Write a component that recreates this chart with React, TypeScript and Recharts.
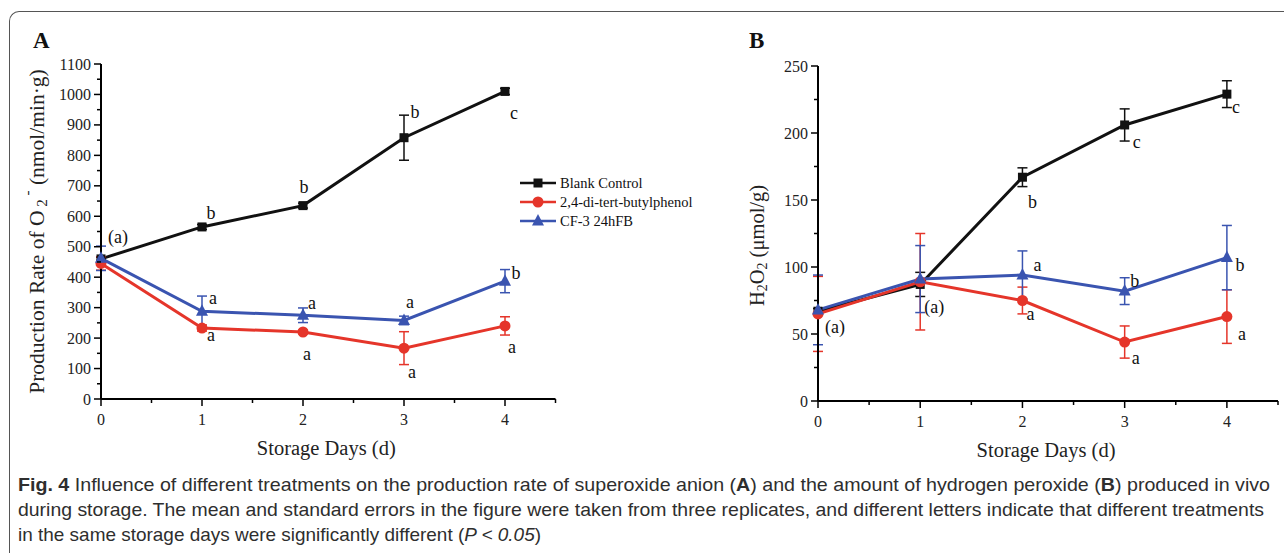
import React from "react";
import { LineChart, Line, XAxis, YAxis, ErrorBar, LabelList } from "recharts";

const days = [0, 1, 2, 3, 4];
const seriesNames = ["Blank Control", "2,4-di-tert-butylphenol", "CF-3 24hFB"];

// A: superoxide anion production rate (nmol/min·g)
const o2Blank = [460, 565, 635, 858, 1010];
const o2BlankErr = [5, 8, 8, 74, 10];
const o2Dtbp = [445, 233, 220, 167, 240];
const o2DtbpErr = [22, 10, 6, 54, 30];
const o2Cf3 = [462, 288, 275, 258, 387];
const o2Cf3Err = [40, 50, 24, 14, 38];
const o2BlankLetters = ["(a)", "b", "b", "b", "c"];
const o2DtbpLetters = ["", "a", "a", "a", "a"];
const o2Cf3Letters = ["", "a", "a", "a", "b"];

// B: hydrogen peroxide (μmol/g)
const h2o2Blank = [67, 87, 167, 206, 229];
const h2o2BlankErr = [2, 9, 7, 12, 10];
const h2o2Dtbp = [65, 89, 75, 44, 63];
const h2o2DtbpErr = [28, 36, 10, 12, 20];
const h2o2Cf3 = [68, 91, 94, 82, 107];
const h2o2Cf3Err = [26, 25, 18, 10, 24];
const h2o2BlankLetters = ["(a)", "(a)", "b", "c", "c"];
const h2o2DtbpLetters = ["", "", "a", "a", "a"];
const h2o2Cf3Letters = ["", "", "a", "b", "b"];

// letter placement relative to the point (dx, dy)
const offA = {
  blank: [[17, -22], [9, -14], [1, -19], [11, -26], [9, 22]],
  dtbp: [[0, 0], [9, 7], [4, 22], [8, 24], [7, 21]],
  cf3: [[0, 0], [11, -13], [9, -12], [6, -18], [11, -8]],
};
const offB = {
  blank: [[17, 16], [14, 23], [10, 25], [12, 17], [9, 13]],
  dtbp: [[0, 0], [0, 0], [8, 13], [11, 16], [15, 17]],
  cf3: [[0, 0], [0, 0], [15, -10], [10, -10], [13, 7]],
};

const BLACK = "#111111";
const RED = "#e5352a";
const BLUE = "#3a54b0";
const SERIF = "'Liberation Serif', 'Times New Roman', serif";

const range = (max: number, step: number) =>
  Array.from({ length: Math.round(max / step) + 1 }, (_, i) => i * step);

const buildRows = (b: number[], be: number[], r: number[], re: number[], c: number[], ce: number[],
  bl: string[], rl: string[], cl: string[]) =>
  days.map((d, i) => ({
    day: d,
    blank: b[i], blankErr: be[i], blankL: bl[i],
    dtbp: r[i], dtbpErr: re[i], dtbpL: rl[i],
    cf3: c[i], cf3Err: ce[i], cf3L: cl[i],
  }));

const rowsA = buildRows(o2Blank, o2BlankErr, o2Dtbp, o2DtbpErr, o2Cf3, o2Cf3Err,
  o2BlankLetters, o2DtbpLetters, o2Cf3Letters);
const rowsB = buildRows(h2o2Blank, h2o2BlankErr, h2o2Dtbp, h2o2DtbpErr, h2o2Cf3, h2o2Cf3Err,
  h2o2BlankLetters, h2o2DtbpLetters, h2o2Cf3Letters);

function Square({ cx, cy, color }: any) {
  return <rect x={cx - 4.5} y={cy - 4.5} width={9} height={9} fill={color} />;
}
function Dot({ cx, cy, color }: any) {
  return <circle cx={cx} cy={cy} r={5.5} fill={color} />;
}
function Tri({ cx, cy, color }: any) {
  return <polygon points={`${cx},${cy - 7} ${cx + 6},${cy + 4.5} ${cx - 6},${cy + 4.5}`} fill={color} />;
}
const marker = (Shape: any, color: string) => (p: any) =>
  <Shape key={`m${p.index}`} cx={p.cx} cy={p.cy} color={color} />;

const yTick = (majorStep: number) => (props: any) => {
  const { x, y, payload } = props;
  const v = payload.value;
  const major = v % majorStep === 0;
  return (
    <g>
      <line x1={x} x2={x - (major ? 7 : 4)} y1={y} y2={y} stroke="#000" strokeWidth={1.5} />
      {major && (
        <text x={x - 10} y={y} textAnchor="end" dominantBaseline="central"
          fontFamily={SERIF} fontSize={16} fill="#222">{v}</text>
      )}
    </g>
  );
};

const xTick = (props: any) => {
  const { x, y, payload } = props;
  const v = payload.value;
  const major = Number.isInteger(v);
  return (
    <g>
      <line x1={x} x2={x} y1={y} y2={y + (major ? 7 : 4)} stroke="#000" strokeWidth={1.5} />
      {major && (
        <text x={x} y={y + 20} textAnchor="middle" dominantBaseline="central"
          fontFamily={SERIF} fontSize={16} fill="#222">{v}</text>
      )}
    </g>
  );
};

const letter = (offs: number[][]) => (p: any) => {
  const { x, y, value, index } = p;
  if (!value) return null;
  const [dx, dy] = offs[index];
  return (
    <text key={`l${index}`} x={x + dx} y={y + dy} textAnchor="middle" dominantBaseline="central"
      fontFamily={SERIF} fontSize={18} fill="#111">{value}</text>
  );
};

function Panel({ rows, yMax, yMinor, yMajor, offs, yLabel, yLabelSize, yLabelDx, yLabelDy, margin, width, height }: any) {
  return (
    <LineChart width={width} height={height} data={rows} margin={margin}>
      <XAxis
        dataKey="day"
        type="number"
        domain={[0, 4.5]}
        ticks={range(4.5, 0.5)}
        interval={0}
        tickSize={0}
        tickMargin={0}
        tick={xTick}
        height={40}
        axisLine={{ stroke: "#000", strokeWidth: 2 }}
        tickLine={false}
        label={{
          content: (lp: any) => (
            <text x={lp.viewBox.x + lp.viewBox.width / 2 - 2} y={lp.viewBox.y + 49} textAnchor="middle"
              dominantBaseline="central" fontFamily={SERIF} fontSize={20.5} fill="#222">
              Storage Days (d)
            </text>
          ),
        }}
      />
      <YAxis
        type="number"
        domain={[0, yMax]}
        ticks={range(yMax, yMinor)}
        interval={0}
        tickSize={0}
        tickMargin={0}
        tick={yTick(yMajor)}
        width={85}
        axisLine={{ stroke: "#000", strokeWidth: 2 }}
        tickLine={false}
        label={{
          content: (lp: any) => {
            const cx = lp.viewBox.x + yLabelDx;
            const cy = lp.viewBox.y + lp.viewBox.height / 2 + yLabelDy;
            return (
              <text x={cx} y={cy} transform={`rotate(-90 ${cx} ${cy})`} textAnchor="middle"
                dominantBaseline="central" fontFamily={SERIF} fontSize={yLabelSize} fill="#222">
                {yLabel}
              </text>
            );
          },
        }}
      />
      <Line dataKey="blank" stroke={BLACK} strokeWidth={3} dot={marker(Square, BLACK)}
        activeDot={false} isAnimationActive={false}>
        <ErrorBar dataKey="blankErr" direction="y" width={5} stroke={BLACK} strokeWidth={1.5} />
        <LabelList dataKey="blankL" content={letter(offs.blank)} />
      </Line>
      <Line dataKey="dtbp" stroke={RED} strokeWidth={3} dot={marker(Dot, RED)}
        activeDot={false} isAnimationActive={false}>
        <ErrorBar dataKey="dtbpErr" direction="y" width={5} stroke={RED} strokeWidth={1.5} />
        <LabelList dataKey="dtbpL" content={letter(offs.dtbp)} />
      </Line>
      <Line dataKey="cf3" stroke={BLUE} strokeWidth={3} dot={marker(Tri, BLUE)}
        activeDot={false} isAnimationActive={false}>
        <ErrorBar dataKey="cf3Err" direction="y" width={5} stroke={BLUE} strokeWidth={1.5} />
        <LabelList dataKey="cf3L" content={letter(offs.cf3)} />
      </Line>
    </LineChart>
  );
}

function LegendBox() {
  const items = [
    { name: seriesNames[0], color: BLACK, Shape: Square },
    { name: seriesNames[1], color: RED, Shape: Dot },
    { name: seriesNames[2], color: BLUE, Shape: Tri },
  ];
  return (
    <svg width={200} height={60} style={{ position: "absolute", left: 518, top: 173 }}>
      {items.map((it, i) => (
        <g key={it.name} transform={`translate(0 ${10 + i * 19})`}>
          <line x1={2} x2={38} y1={0} y2={0} stroke={it.color} strokeWidth={2.5} />
          <it.Shape cx={20} cy={0} color={it.color} />
          <text x={42} y={0} dominantBaseline="central" fontFamily={SERIF} fontSize={14.5} fill="#111">
            {it.name}
          </text>
        </g>
      ))}
    </svg>
  );
}

export default function App() {
  const capFont = "'Liberation Sans Narrow', 'Liberation Sans', Arial, sans-serif";
  return (
    <div style={{ position: "absolute", left: 0, top: 0, width: 1284, height: 553, background: "#fff", overflow: "hidden" }}>
      <div style={{
        position: "absolute", left: 9, top: 11, width: 1320, height: 620,
        borderTop: "1.5px solid #555", borderLeft: "1.5px solid #555", borderTopLeftRadius: 10,
      }} />
      <div style={{ position: "absolute", left: 33, top: 28, fontFamily: SERIF, fontWeight: 700, fontSize: 23, color: "#111" }}>A</div>
      <div style={{ position: "absolute", left: 749, top: 28, fontFamily: SERIF, fontWeight: 700, fontSize: 23, color: "#111" }}>B</div>

      <div style={{ position: "absolute", left: 0, top: 0 }}>
        <Panel rows={rowsA} yMax={1100} yMinor={50} yMajor={100} offs={offA}
          width={600} height={470} margin={{ top: 64, right: 44.5, left: 16, bottom: 31 }}
          yLabelSize={21.5} yLabelDx={21} yLabelDy={0}
          yLabel={<>Production Rate of O<tspan dy={5} fontSize={15}> 2</tspan><tspan dy={-15} fontSize={15}> -</tspan><tspan dy={10}> (nmol/min·g)</tspan></>}
        />
      </div>
      <LegendBox />
      <div style={{ position: "absolute", left: 720, top: 0 }}>
        <Panel rows={rowsB} yMax={250} yMinor={25} yMajor={50} offs={offB}
          width={564} height={470} margin={{ top: 66, right: 6, left: 13, bottom: 29 }}
          yLabelSize={20.5} yLabelDx={24} yLabelDy={12}
          yLabel={<>H<tspan dy={5} fontSize={14}>2</tspan><tspan dy={-5}>O</tspan><tspan dy={5} fontSize={14}>2</tspan><tspan dy={-5}> (μmol/g)</tspan></>}
        />
      </div>

      <svg width={1284} height={93} style={{ position: "absolute", left: 0, top: 460 }}>
        <text x={18} y={31} fontFamily={capFont} fontSize={19} fill="#2e2e2e" textLength={1252} lengthAdjust="spacingAndGlyphs">
          <tspan fontWeight={700}>Fig. 4</tspan>
          <tspan>{"  Influence of different treatments on the production rate of superoxide anion ("}</tspan>
          <tspan fontWeight={700}>A</tspan>
          <tspan>{") and the amount of hydrogen peroxide ("}</tspan>
          <tspan fontWeight={700}>B</tspan>
          <tspan>{") produced in vivo"}</tspan>
        </text>
        <text x={18} y={56} fontFamily={capFont} fontSize={19} fill="#2e2e2e" textLength={1246} lengthAdjust="spacingAndGlyphs">
          during storage. The mean and standard errors in the figure were taken from three replicates, and different letters indicate that different treatments
        </text>
        <text x={18} y={81} fontFamily={capFont} fontSize={19} fill="#2e2e2e" textLength={523} lengthAdjust="spacingAndGlyphs">
          <tspan>{"in the same storage days were significantly different ("}</tspan>
          <tspan fontStyle="italic">{"P < 0.05"}</tspan>
          <tspan>)</tspan>
        </text>
      </svg>
    </div>
  );
}
